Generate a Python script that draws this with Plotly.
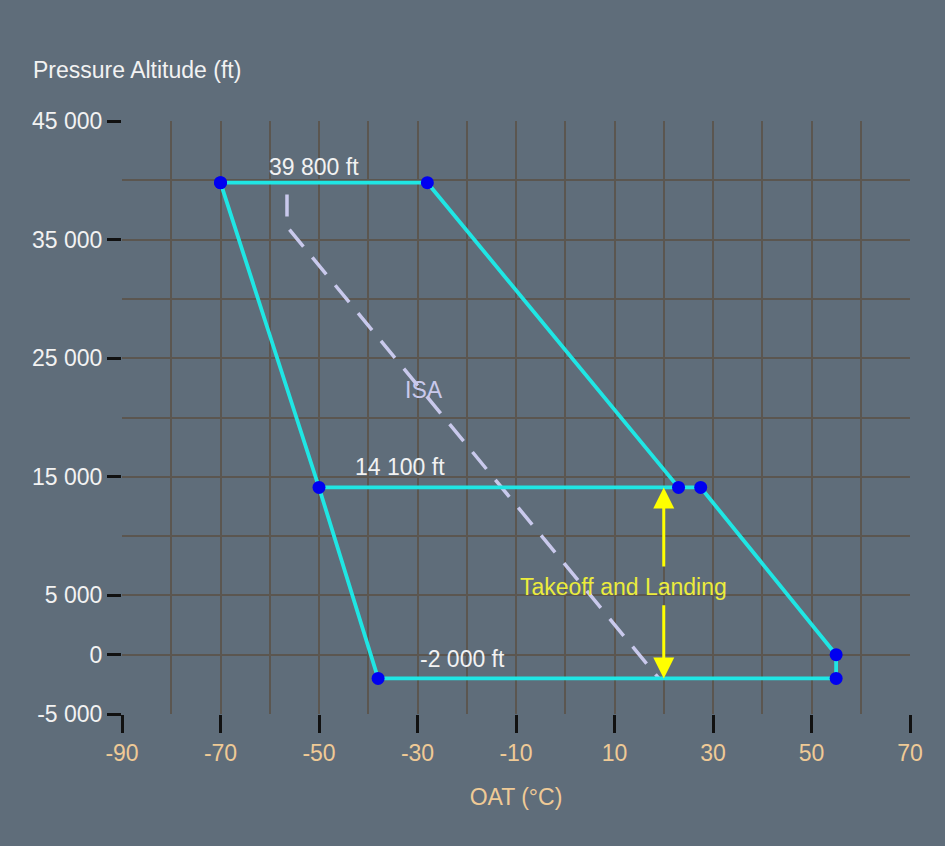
import plotly.graph_objects as go

# ---- data ----
env_oat = [-70, -28, 23, 27.5, 55, 55, -38, -50, -70]
env_alt = [39800, 39800, 14100, 14100, 0, -2000, -2000, 14100, 39800]
mid_oat = [-50, 23]
mid_alt = [14100, 14100]
isa_oat = [-56.5, -56.5, 19]
isa_alt = [38800, 36089, -2000]
x_tickvals = [-90, -70, -50, -30, -10, 10, 30, 50, 70]
x_ticktext = ["-90", "-70", "-50", "-30", "-10", "10", "30", "50", "70"]
y_tickvals = [45000, 35000, 25000, 15000, 5000, 0, -5000]
y_ticktext = ["45 000", "35 000", "25 000", "15 000", "5 000", "0", "-5 000"]
labels = ["39 800 ft", "14 100 ft", "-2 000 ft"]
arrow_oat = 20
arrow_top = 14100
arrow_bottom = -2000

BG = "#5f6d7a"
GRID = "#5b5650"
CYAN = "#1fe6e4"
BLUE = "#0000f0"
ISA_C = "#c9c9ec"
YEL = "#ffff00"
WHITE = "#f2f2f2"
TAN = "#efca96"
FONT = "Liberation Sans, Arial, sans-serif"
FS = 23

fig = go.Figure()

fig.add_trace(go.Scatter(x=isa_oat, y=isa_alt, mode="lines",
                         line=dict(color=ISA_C, width=3.5, dash="22px,14px"),
                         hoverinfo="skip", showlegend=False))
fig.add_trace(go.Scatter(x=mid_oat, y=mid_alt, mode="lines",
                         line=dict(color=CYAN, width=3.8),
                         hoverinfo="skip", showlegend=False))
fig.add_trace(go.Scatter(x=env_oat, y=env_alt, mode="lines+markers",
                         line=dict(color=CYAN, width=3.8),
                         marker=dict(color=BLUE, size=13),
                         showlegend=False))

ann = []
ann.append(dict(x=-51, y=41100, text=labels[0], showarrow=False,
                font=dict(family=FONT, size=FS, color=WHITE)))
ann.append(dict(x=-33.6, y=15800, text=labels[1], showarrow=False,
                font=dict(family=FONT, size=FS, color=WHITE)))
ann.append(dict(x=-20.8, y=-400, text=labels[2], showarrow=False,
                font=dict(family=FONT, size=FS, color=WHITE)))
ann.append(dict(x=-28.6, y=22300, text="ISA", showarrow=False,
                font=dict(family=FONT, size=FS, color=ISA_C)))
ann.append(dict(x=11.9, y=5700, text="Takeoff and Landing", showarrow=False,
                font=dict(family=FONT, size=FS, color="#ecec3c")))
# yellow double arrow (two halves around the text)
ann.append(dict(x=arrow_oat, y=arrow_top, ax=arrow_oat, ay=7300,
                xref="x", yref="y", axref="x", ayref="y", text="",
                showarrow=True, arrowhead=2, arrowsize=1.4, arrowwidth=3,
                arrowcolor=YEL))
ann.append(dict(x=arrow_oat, y=arrow_bottom, ax=arrow_oat, ay=4300,
                xref="x", yref="y", axref="x", ayref="y", text="",
                showarrow=True, arrowhead=2, arrowsize=1.4, arrowwidth=3,
                arrowcolor=YEL))
ann.append(dict(xref="paper", yref="paper", x=(31 - 122) / 788, y=(714 - 70) / 593,
                xanchor="left", yanchor="middle", text="Pressure Altitude (ft)",
                showarrow=False, font=dict(family=FONT, size=FS, color=WHITE)))

fig.update_layout(
    width=945, height=846,
    paper_bgcolor=BG, plot_bgcolor=BG,
    margin=dict(l=122, r=35, t=121, b=132),
    font=dict(family=FONT, size=FS, color=WHITE),
    annotations=ann,
    showlegend=False,
)
fig.update_xaxes(
    range=[-90, 70], tickvals=x_tickvals, ticktext=x_ticktext,
    showgrid=True, gridcolor=GRID, gridwidth=2,
    zeroline=False, showline=False,
    ticks="outside", ticklen=18, tickwidth=2.5, tickcolor="#111111",
    tickfont=dict(family=FONT, size=FS, color=TAN),
    minor=dict(dtick=10, tick0=0, showgrid=True, gridcolor=GRID, gridwidth=2),
    title=dict(text="OAT (°C)", font=dict(family=FONT, size=FS, color=TAN), standoff=24),
)
fig.update_yaxes(
    range=[-5000, 45000], tickvals=y_tickvals, ticktext=y_ticktext,
    showgrid=True, gridcolor=GRID, gridwidth=2,
    zeroline=False, showline=False,
    ticks="outside", ticklen=14, tickwidth=2.5, tickcolor="#111111",
    tickfont=dict(family=FONT, size=FS, color=WHITE),
    minor=dict(dtick=5000, tick0=0, showgrid=True, gridcolor=GRID, gridwidth=2),
)

fig.write_html("out.html",
               config={"displayModeBar": False},
               post_script="document.body.style.margin='0';document.body.style.overflow='hidden';")
